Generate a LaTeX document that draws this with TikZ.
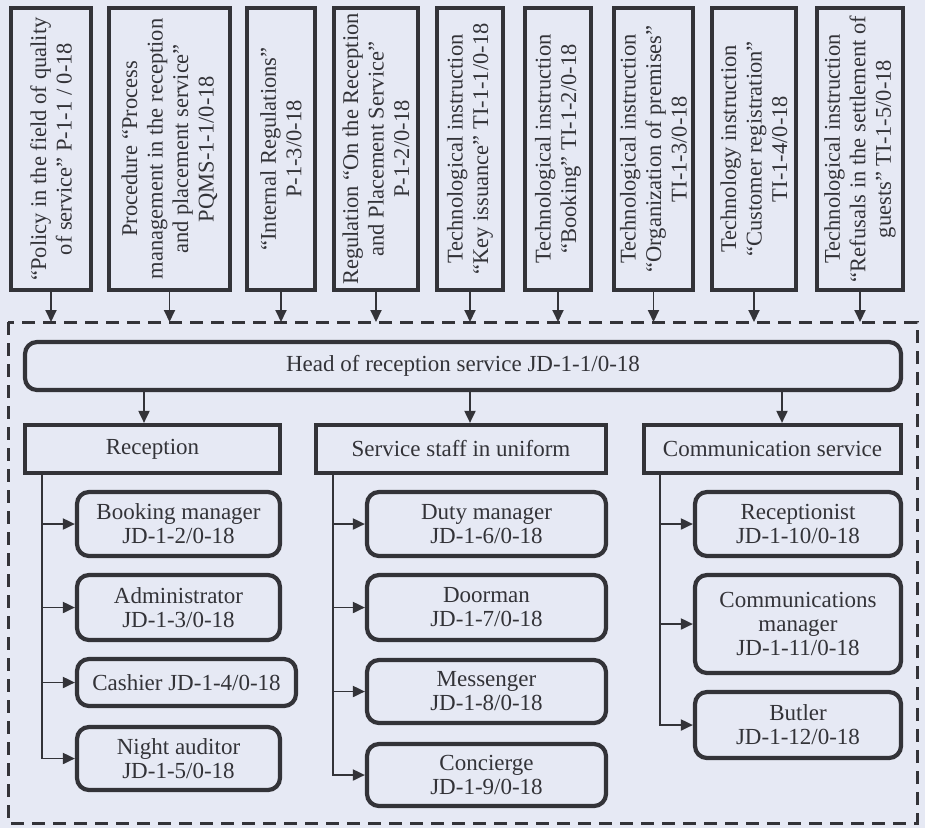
\documentclass[tikz,border=0pt]{standalone}
\usepackage{fontspec}
\setmainfont{Liberation Serif}
\usepackage{xcolor}
\usepackage{tikz}
\usetikzlibrary{shapes.geometric, arrows, arrows.meta}
\definecolor{paper}{HTML}{E6E9F4}
\definecolor{ink}{HTML}{333338}
\tikzstyle{docbox} = [rectangle, rotate=90, draw=ink, line width=4.2pt, fill=paper, inner sep=0pt, minimum width=282pt, align=center, font=\fontsize{22.5}{25.5}\selectfont]
\tikzstyle{headbox} = [rectangle, rounded corners=12pt, draw=ink, line width=4.2pt, minimum width=876pt, minimum height=48pt, text centered]
\tikzstyle{unitbox} = [rectangle, draw=ink, line width=4.2pt, minimum height=48pt, text centered]
\tikzstyle{postbox} = [rectangle, rounded corners=12pt, draw=ink, line width=4.2pt, inner sep=0pt, align=center]
\tikzstyle{arrow} = [draw=ink, line width=1.9pt, -{Triangle[length=12pt,width=11pt]}]
\tikzstyle{frame} = [draw=ink, line width=3pt, dash pattern=on 13pt off 8pt]

\begin{document}
\begin{tikzpicture}[x=1pt, y=-1pt, font=\fontsize{23}{24}\selectfont, text=ink]

	\fill[paper] (0,0) rectangle (925,828);
	\draw[frame] (8,322) rectangle (917,823);
	\coordinate (frametop) at (0,322);
	
	% documents
	\node (d1) [docbox, minimum height=80pt] at (51,149) {``Policy in the field of quality\\of service'' P-1-1 / 0-18};
	\node (d2) [docbox, minimum height=121pt] at (169.5,149) {Procedure ``Process\\management in the reception\\and placement service''\\PQMS-1-1/0-18};
	\node (d3) [docbox, minimum height=68pt] at (281,149) {``Internal Regulations''\\P-1-3/0-18};
	\node (d4) [docbox, minimum height=84pt] at (376,149) {Regulation ``On the Reception\\and Placement Service''\\P-1-2/0-18};
	\node (d5) [docbox, minimum height=66pt] at (470,149) {Technological instruction\\``Key issuance'' TI-1-1/0-18};
	\node (d6) [docbox, minimum height=66pt] at (558,149) {Technological instruction\\``Booking'' TI-1-2/0-18};
	\node (d7) [docbox, minimum height=79pt] at (653.5,149) {Technological instruction\\``Organization of premises''\\TI-1-3/0-18};
	\node (d8) [docbox, minimum height=84pt] at (754,149) {Technology instruction\\``Customer registration''\\TI-1-4/0-18};
	\node (d9) [docbox, minimum height=86pt] at (860,149) {Technological instruction\\``Refusals in the settlement of\\guests'' TI-1-5/0-18};
	
	\draw [arrow] (d1.west) -- (d1.west |- frametop);
	\draw [arrow] (d2.west) -- (d2.west |- frametop);
	\draw [arrow] (d3.west) -- (d3.west |- frametop);
	\draw [arrow] (d4.west) -- (d4.west |- frametop);
	\draw [arrow] (d5.west) -- (d5.west |- frametop);
	\draw [arrow] (d6.west) -- (d6.west |- frametop);
	\draw [arrow] (d7.west) -- (d7.west |- frametop);
	\draw [arrow] (d8.west) -- (d8.west |- frametop);
	\draw [arrow] (d9.west) -- (d9.west |- frametop);
	
	% head and units
	\node (head) [headbox] at (463,366) {Head of reception service JD-1-1/0-18};
	\node (rec) [unitbox, minimum width=255pt] at (152.5,449) {Reception};
	\node (staff) [unitbox, minimum width=290pt] at (461,449) {Service staff in uniform};
	\node (comm) [unitbox, minimum width=257pt] at (772.5,449) {Communication service};
	
	\draw [arrow] (head.south -| 144,0) -- (rec.north -| 144,0);
	\draw [arrow] (head.south -| 470,0) -- (staff.north -| 470,0);
	\draw [arrow] (head.south -| 782,0) -- (comm.north -| 782,0);
	
	% reception posts
	\coordinate (rtrunk) at (42,0);
	\node (bm) [postbox, minimum width=203pt, minimum height=64pt] at (178.5,524) {Booking manager\\JD-1-2/0-18};
	\node (adm) [postbox, minimum width=203pt, minimum height=65pt] at (178.5,607.5) {Administrator\\JD-1-3/0-18};
	\node (cash) [postbox, minimum width=219pt, minimum height=47pt] at (186.5,682.5) {Cashier JD-1-4/0-18};
	\node (night) [postbox, minimum width=203pt, minimum height=63pt] at (178.5,758.5) {Night auditor\\JD-1-5/0-18};
	
	\draw [arrow] (rec.south -| rtrunk) |- (bm.west);
	\draw [arrow] (rec.south -| rtrunk) |- (adm.west);
	\draw [arrow] (rec.south -| rtrunk) |- (cash.west);
	\draw [arrow] (rec.south -| rtrunk) |- (night.west);
	
	% uniform staff posts
	\coordinate (strunk) at (333,0);
	\node (duty) [postbox, minimum width=239pt, minimum height=64pt] at (486.5,524) {Duty manager\\JD-1-6/0-18};
	\node (door) [postbox, minimum width=239pt, minimum height=65pt] at (486.5,607.5) {Doorman\\JD-1-7/0-18};
	\node (mess) [postbox, minimum width=239pt, minimum height=63pt] at (486.5,691.5) {Messenger\\JD-1-8/0-18};
	\node (conc) [postbox, minimum width=239pt, minimum height=62pt] at (486.5,775) {Concierge\\JD-1-9/0-18};
	
	\draw [arrow] (staff.south -| strunk) |- (duty.west);
	\draw [arrow] (staff.south -| strunk) |- (door.west);
	\draw [arrow] (staff.south -| strunk) |- (mess.west);
	\draw [arrow] (staff.south -| strunk) |- (conc.west);
	
	% communication posts
	\coordinate (ctrunk) at (660,0);
	\node (recp) [postbox, minimum width=206pt, minimum height=64pt] at (798,524) {Receptionist\\JD-1-10/0-18};
	\node (cmgr) [postbox, minimum width=206pt, minimum height=98pt] at (798,624) {Communications\\manager\\JD-1-11/0-18};
	\node (butler) [postbox, minimum width=206pt, minimum height=66pt] at (798,725) {Butler\\JD-1-12/0-18};
	
	\draw [arrow] (comm.south -| ctrunk) |- (recp.west);
	\draw [arrow] (comm.south -| ctrunk) |- (cmgr.west);
	\draw [arrow] (comm.south -| ctrunk) |- (butler.west);
	
\end{tikzpicture}
\end{document}
